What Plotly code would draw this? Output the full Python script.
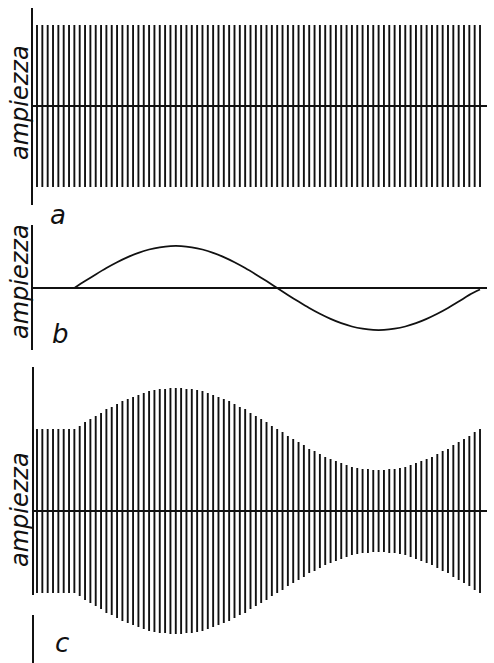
import plotly.graph_objects as go

W, H = 494, 663

# ---- data ----
bar_index = list(range(84))  # carrier oscillation positions (time)
# panel a: unmodulated carrier amplitude
carrier_amp = [81] * 84
# panel b: modulating signal, sampled along time (bar index units)
mod_t = [7, 9, 11, 13, 15, 17, 19, 21, 23, 25, 27, 29, 31, 33, 35, 37, 39, 41, 43, 45,
         47, 49, 51, 53, 55, 57, 59, 61, 63, 65, 67, 69, 71, 73, 75, 77, 79, 81, 83]
mod_val = [0, 6.9, 13.6, 20.0, 25.8, 30.9, 35.2, 38.5, 40.7, 41.9, 41.9, 40.7, 38.5, 35.2,
           30.9, 25.8, 20.0, 13.6, 6.9, 0, -6.9, -13.6, -20.0, -25.8, -30.9, -35.2, -38.5,
           -40.7, -41.9, -41.9, -40.7, -38.5, -35.2, -30.9, -25.8, -20.0, -13.6, -6.9, -1.5]
# panel c: modulated carrier envelope (one value per carrier oscillation)
mod_amp = [82, 82, 82, 82, 82, 82, 82,
           82, 85, 89, 92, 95, 98, 102, 104, 107, 110, 112, 114, 116, 118, 120, 121, 122,
           122, 123, 123, 123, 122, 122, 121, 120, 118, 116, 114, 112, 110, 107, 104, 102,
           98, 95, 92, 89, 85, 82, 79, 75, 72, 69, 66, 62, 60, 57, 54, 52, 50, 48, 46, 44,
           43, 42, 42, 41, 41, 41, 42, 42, 43, 44, 46, 48, 50, 52, 54, 57, 60, 62, 66, 69,
           72, 75, 79, 82]
labels = ["a", "b", "c"]
axis_title = "ampiezza"


def bars(xs, amps):
    bx, by = [], []
    for x, a in zip(xs, amps):
        bx += [x, x, None]
        by += [-a, a, None]
    return bx, by


def py(px):
    return 1 - px / H


def pxx(px):
    return px / W


fig = go.Figure()
ax, ay = bars(bar_index, carrier_amp)
fig.add_trace(go.Scatter(x=ax, y=ay, mode="lines", line=dict(color="#111", width=1.9),
                         xaxis="x", yaxis="y", hoverinfo="skip"))
fig.add_trace(go.Scatter(x=mod_t, y=mod_val, mode="lines", line=dict(color="#111", width=1.8, shape="spline"),
                         xaxis="x", yaxis="y2", hoverinfo="skip"))
cx, cy = bars(bar_index, mod_amp)
fig.add_trace(go.Scatter(x=cx, y=cy, mode="lines", line=dict(color="#111", width=1.9),
                         xaxis="x", yaxis="y3", hoverinfo="skip"))

x0, x1 = 33, 487
xr = [-0.75, 84.31]
common_y = dict(showgrid=False, showticklabels=False, ticks="", zeroline=True,
                zerolinecolor="#111", zerolinewidth=2, fixedrange=True)

fig.update_layout(
    width=W, height=H, margin=dict(l=0, r=0, t=0, b=0),
    paper_bgcolor="white", plot_bgcolor="white", showlegend=False,
    xaxis=dict(domain=[pxx(x0), pxx(x1)], range=xr, visible=False, anchor="y3", fixedrange=True),
    yaxis=dict(domain=[py(205), py(8)], range=[-99, 98], showline=True, linecolor="#111",
               linewidth=2, **common_y),
    yaxis2=dict(domain=[py(350), py(225)], range=[-62, 63], showline=True, linecolor="#111",
                linewidth=2, **common_y),
    yaxis3=dict(domain=[py(663), py(367)], range=[-152, 144], showline=False, **common_y),
)

# axis line of panel c (with the small break seen in the original)
for ya, yb in [(144, -84), (-104, -152)]:
    fig.add_shape(type="line", xref="paper", yref="y3", x0=pxx(x0), x1=pxx(x0), y0=ya, y1=yb,
                  line=dict(color="#111", width=2))

font_lbl = dict(family="DejaVu Sans", size=26, color="#111", style="italic")
for txt, (lx, ly) in zip(labels, [(58, 215), (60, 334), (62, 643)]):
    fig.add_annotation(text=txt, x=pxx(lx), y=py(ly), xref="paper", yref="paper",
                       showarrow=False, font=font_lbl, xanchor="center", yanchor="middle")

font_t = dict(family="DejaVu Sans", size=24, color="#111", style="italic")
for cy_ in [103, 282, 510]:
    fig.add_annotation(text=axis_title, x=pxx(20), y=py(cy_), xref="paper", yref="paper",
                       showarrow=False, font=font_t, textangle=-90, borderpad=0,
                       xanchor="center", yanchor="middle")

fig.write_html("out.html", config={"displayModeBar": False, "staticPlot": True},
               post_script="document.documentElement.style.margin='0';"
                           "document.body.style.margin='0';document.body.style.padding='0';")
